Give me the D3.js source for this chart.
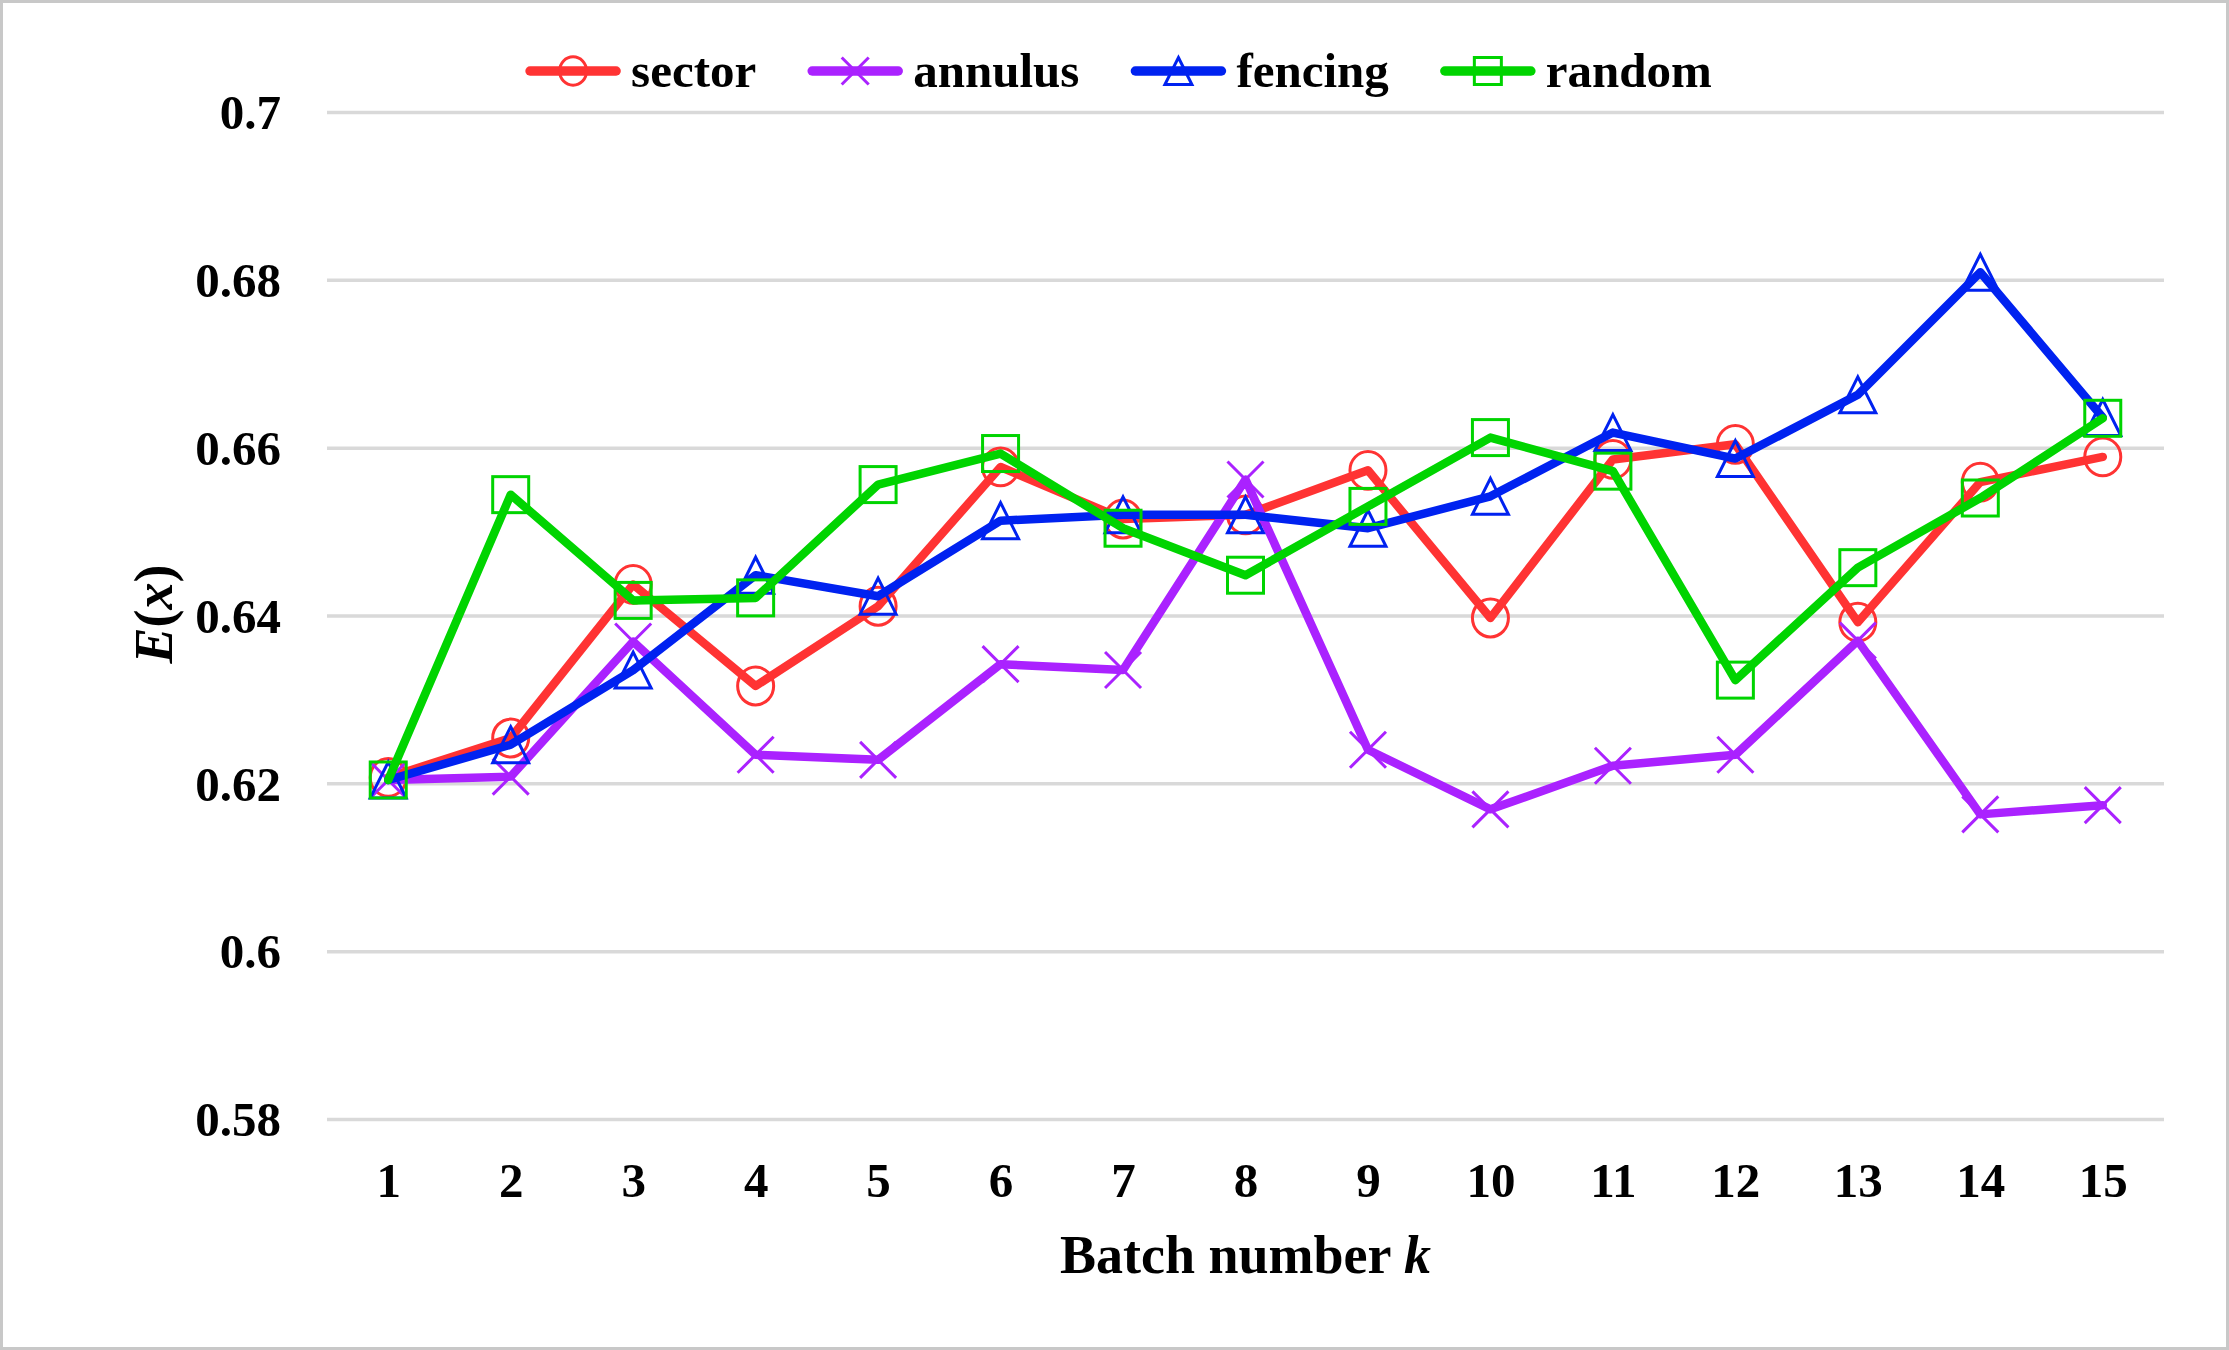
<!DOCTYPE html>
<html>
<head>
<meta charset="utf-8">
<script src="https://cdn.jsdelivr.net/npm/d3@7"></script>
<style>
  body { margin: 0; background: #fff; }
  text { font-family: "Liberation Serif", "Times New Roman", serif; font-weight: bold; fill: #000; }
</style>
</head>
<body>
<svg id="chart" width="2229" height="1350"></svg>
<script>
const categories = [1, 2, 3, 4, 5, 6, 7, 8, 9, 10, 11, 12, 13, 14, 15];
const sector  = [0.6207, 0.6254, 0.6437, 0.6316, 0.6411, 0.6577, 0.6515, 0.6520, 0.6573, 0.6397, 0.6586, 0.6604, 0.6392, 0.6559, 0.6589];
const annulus = [0.6204, 0.6208, 0.6369, 0.6234, 0.6228, 0.6342, 0.6335, 0.6562, 0.6240, 0.6169, 0.6221, 0.6234, 0.6370, 0.6163, 0.6174];
const fencing = [0.6204, 0.6246, 0.6335, 0.6448, 0.6423, 0.6513, 0.6520, 0.6520, 0.6504, 0.6542, 0.6618, 0.6587, 0.6663, 0.6809, 0.6636];
const random  = [0.6204, 0.6544, 0.6418, 0.6421, 0.6556, 0.6593, 0.6504, 0.6448, 0.6530, 0.6612, 0.6572, 0.6323, 0.6457, 0.6540, 0.6635];
const yTicks = [0.58, 0.6, 0.62, 0.64, 0.66, 0.68, 0.7];
const seriesNames = ["sector", "annulus", "fencing", "random"];
const seriesColors = ["#ff3333", "#aa22ff", "#0022f0", "#00d400"];
const seriesMarkers = ["circle", "cross", "triangle", "square"];

const series = [sector, annulus, fencing, random].map((vals, i) => ({
  name: seriesNames[i], color: seriesColors[i], marker: seriesMarkers[i],
  values: vals.map((v, j) => ({k: categories[j], v: v}))
}));

const svg = d3.select("#chart");
const W = 2229, H = 1350;
const plot = {left: 327, right: 2164, top: 112, bottom: 1119};

// outer border
svg.append("rect")
  .attr("x", 1.5).attr("y", 1.5)
  .attr("width", W - 3).attr("height", H - 3)
  .attr("fill", "#fff").attr("stroke", "#c8c8c8").attr("stroke-width", 3);

const x = d3.scalePoint().domain(categories).range([plot.left, plot.right]).padding(0.5);
const y = d3.scaleLinear().domain([0.58, 0.7]).range([plot.bottom, plot.top]);

// gridlines + y labels
const yAxis = svg.append("g")
  .attr("transform", `translate(${plot.left},0)`)
  .call(d3.axisLeft(y).tickValues(yTicks).tickFormat(d3.format("")).tickSize(-(plot.right - plot.left)).tickPadding(46));
yAxis.select(".domain").remove();
yAxis.selectAll(".tick line").attr("stroke", "#d9d9d9").attr("stroke-width", 3.5);
yAxis.selectAll(".tick text")
  .attr("font-size", 49).attr("dy", "0.34em")
  .style("font-family", "Liberation Serif").style("font-weight", "bold");

// x labels
const xAxis = svg.append("g")
  .attr("transform", `translate(0,${plot.bottom})`)
  .call(d3.axisBottom(x).tickSize(0).tickPadding(43));
xAxis.select(".domain").remove();
xAxis.selectAll(".tick text")
  .attr("font-size", 49)
  .style("font-family", "Liberation Serif").style("font-weight", "bold");

// axis titles
const xt = svg.append("text")
  .attr("x", (plot.left + plot.right) / 2).attr("y", 1273)
  .attr("text-anchor", "middle").attr("font-size", 54);
xt.append("tspan").text("Batch number ");
xt.append("tspan").attr("font-style", "italic").text("k");

const yt = svg.append("text")
  .attr("transform", "translate(172,614) rotate(-90)")
  .attr("text-anchor", "middle").attr("font-size", 54);
yt.append("tspan").attr("font-style", "italic").text("E");
yt.append("tspan").text("(");
yt.append("tspan").attr("font-style", "italic").text("x");
yt.append("tspan").text(")");

function drawMarker(sel, type, size, color) {
  const h = size / 2;
  sel.attr("fill", "none").attr("stroke", color).attr("stroke-width", 3);
  if (type === "circle") {
    sel.append("ellipse").attr("rx", h).attr("ry", h * 1.05);
  } else if (type === "square") {
    sel.append("rect").attr("x", -h).attr("y", -h).attr("width", size).attr("height", size);
  } else if (type === "triangle") {
    sel.append("path").attr("d", `M0,${-h}L${h},${h}L${-h},${h}Z`);
  } else if (type === "cross") {
    sel.append("path").attr("d", `M${-h},${-h}L${h},${h}M${h},${-h}L${-h},${h}`);
  }
}

const line = d3.line().x(d => x(d.k)).y(d => y(d.v));

series.forEach(s => {
  const g = svg.append("g");
  g.append("path")
    .datum(s.values)
    .attr("d", line)
    .attr("fill", "none")
    .attr("stroke", s.color)
    .attr("stroke-width", 8.5)
    .attr("stroke-linejoin", "round")
    .attr("stroke-linecap", "round");
  g.selectAll(".mk").data(s.values).enter().append("g")
    .attr("class", "mk")
    .attr("transform", d => `translate(${x(d.k)},${y(d.v)})`)
    .each(function() { drawMarker(d3.select(this), s.marker, 36, s.color); });
});

// legend
const legend = svg.append("g");
let cursor = 0;
series.forEach(s => {
  const item = legend.append("g").attr("transform", `translate(${cursor},71)`);
  item.append("line").attr("x1", 0).attr("x2", 86).attr("y1", 0).attr("y2", 0)
    .attr("stroke", s.color).attr("stroke-width", 9.5).attr("stroke-linecap", "round");
  drawMarker(item.append("g").attr("transform", "translate(43,0)"), s.marker, 27, s.color);
  const t = item.append("text").attr("x", 101).attr("y", 16).attr("font-size", 49).text(s.name);
  const w = t.node().getComputedTextLength();
  cursor += 101 + w + 56;
});
const legendWidth = cursor - 56;
legend.attr("transform", `translate(${1121 - legendWidth / 2},0)`);
</script>
</body>
</html>
